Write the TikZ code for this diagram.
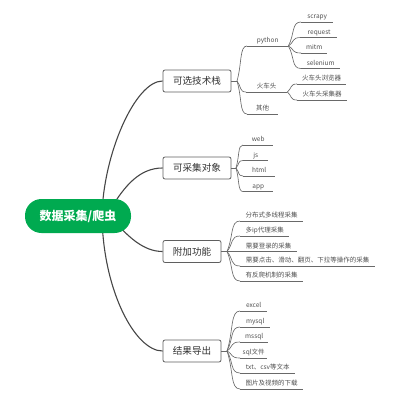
\documentclass[tikz,border=0pt]{standalone}
\usepackage{fontspec}
\setmainfont{Noto Sans CJK SC}
\usetikzlibrary{calc,backgrounds}
\definecolor{rootgreen}{RGB}{0,170,80}
\definecolor{txt}{RGB}{51,51,51}
\definecolor{leaftxt}{RGB}{80,80,80}
\definecolor{mainline}{RGB}{70,70,70}
\definecolor{thinline}{RGB}{95,95,95}
\definecolor{leafgray}{RGB}{105,105,105}
\tikzset{
  rootbox/.style={fill=rootgreen,draw=none,rounded corners=16.5pt,minimum width=106pt,minimum height=34pt,inner sep=0pt,text=white,font=\fontsize{12}{14}\selectfont\bfseries},
  topicbox/.style={draw=thinline,line width=0.8pt,fill=white,rounded corners=2pt,minimum height=22pt,inner sep=0pt,text=txt,font=\fontsize{9.6}{11}\selectfont},
  leaf/.style={anchor=south west,inner xsep=0.5pt,inner ysep=2pt,text height=5.2pt,text depth=1pt,text=leaftxt,font=\fontsize{6.5}{7.5}\selectfont},
  leafline/.style={draw=leafgray,line width=0.65pt},
  mainconn/.style={draw=mainline,line width=1.1pt}
}
\newcommand\lf[5]{\node[leaf,minimum width=#4pt] (#1) at (#2,#3) {#5};
  \draw[leafline] (#1.south west) -- (#1.south east);}
\newcommand\forkto[2]{\draw[leafline] (#1) .. controls ($(#1)!0.5!(#2)$) and ($(#1 |- #2)!0.25!(#2)$) .. (#2);}
\begin{document}
\begin{tikzpicture}[x=1pt,y=-1pt]
\useasboundingbox (0,0) rectangle (400,400);
% root and topics
\node[rootbox] (root) at (78,216) {数据采集/爬虫};
\node[topicbox,minimum width=68pt] (A) at (197,81) {可选技术栈};
\node[topicbox,minimum width=68pt] (B) at (197,168) {可采集对象};
\node[topicbox,minimum width=58pt] (C) at (192,251.5) {附加功能};
\node[topicbox,minimum width=58pt] (D) at (192,351) {结果导出};
% hidden starts of main connectors
\coordinate (r1) at (102,216);
\coordinate (r2) at (110,210);
\coordinate (r3) at (115,222);
\begin{scope}[on background layer]
\draw[mainconn] (r1) .. controls (103,155) and (135,81) .. (A.west);
\draw[mainconn] (r2) .. controls (125,185) and (140,168) .. (B.west);
\draw[mainconn] (r3) .. controls (128,236) and (143,251.5) .. (C.west);
\draw[mainconn] (r1) .. controls (103,290) and (135,351) .. (D.west);
\end{scope}
% leaves of A
\lf{py}{247}{46}{41}{python}
\lf{hc}{246}{92}{41}{火车头}
\lf{qt}{247}{114}{31}{其他}
\lf{s1}{301}{22}{32}{scrapy}
\lf{s2}{301}{37.5}{36}{request}
\lf{s3}{301}{53}{26}{mitm}
\lf{s4}{301}{68.5}{39}{selenium}
\lf{h1}{297}{84}{49}{火车头浏览器}
\lf{h2}{297}{100}{50}{火车头采集器}
% leaves of B
\lf{b1}{243}{145}{30}{web}
\lf{b2}{243}{160.5}{25}{js}
\lf{b3}{243}{176}{32}{html}
\lf{b4}{243}{191.5}{30}{app}
% leaves of C
\lf{c1}{240}{221}{63}{分布式多线程采集}
\lf{c2}{240}{236}{49}{多ip代理采集}
\lf{c3}{240}{251.5}{57}{需要登录的采集}
\lf{c4}{240}{266}{135}{需要点击、滑动、翻页、下拉等操作的采集}
\lf{c5}{240}{281}{63}{有反爬机制的采集}
% leaves of D
\lf{d1}{240}{311}{27}{excel}
\lf{d2}{240}{327}{30}{mysql}
\lf{d3}{240}{342}{28}{mssql}
\lf{d4}{240}{358}{27}{sql文件}
\lf{d5}{240}{373}{55}{txt、csv等文本}
\lf{d6}{240}{389}{63}{图片及视频的下载}
% fork points
\coordinate (fA) at (237,81);
\coordinate (fB) at (236,168);
\coordinate (fC) at (227,251.5);
\coordinate (fD) at (227,351);
\draw[leafline] (A.east) -- (fA);
\draw[leafline] (B.east) -- (fB);
\draw[leafline] (C.east) -- (fC);
\draw[leafline] (D.east) -- (fD);
\forkto{fA}{py.south west}
\forkto{fA}{hc.south west}
\forkto{fA}{qt.south west}
\forkto{py.south east}{s1.south west}
\forkto{py.south east}{s2.south west}
\forkto{py.south east}{s3.south west}
\forkto{py.south east}{s4.south west}
\forkto{hc.south east}{h1.south west}
\forkto{hc.south east}{h2.south west}
\forkto{fB}{b1.south west}
\forkto{fB}{b2.south west}
\forkto{fB}{b3.south west}
\forkto{fB}{b4.south west}
\forkto{fC}{c1.south west}
\forkto{fC}{c2.south west}
\forkto{fC}{c3.south west}
\forkto{fC}{c4.south west}
\forkto{fC}{c5.south west}
\forkto{fD}{d1.south west}
\forkto{fD}{d2.south west}
\forkto{fD}{d3.south west}
\forkto{fD}{d4.south west}
\forkto{fD}{d5.south west}
\forkto{fD}{d6.south west}
\end{tikzpicture}
\end{document}
